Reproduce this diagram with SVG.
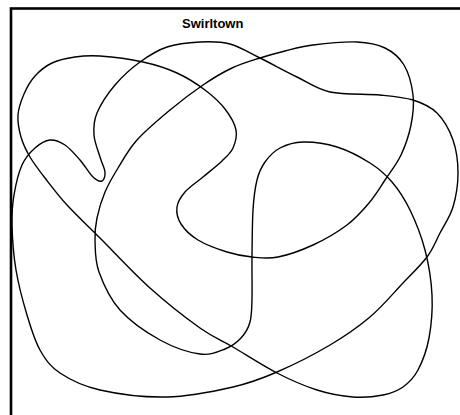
<svg xmlns="http://www.w3.org/2000/svg" width="460" height="415" viewBox="0 0 460 415">
<style>
.frame{fill:none;stroke:#000;stroke-width:2.6}
.curve{fill:none;stroke:#000;stroke-width:1.4;stroke-linejoin:round}
.title{font-family:"Liberation Sans",Arial,sans-serif;font-size:13px;font-weight:bold;fill:#000}
</style>
<rect width="460" height="415" fill="#fff"/>
<rect class="frame" x="11" y="8.5" width="470" height="430"/>
<text class="title" x="182" y="28">Swirltown</text>
<g id="connectors">
<path id="curveA" class="curve" d="M102,181 C104,180.2 105.3,176 105,172 S101.8,163.2 100,157 S94.5,142.3 94,135 S93.5,121.3 97,113 S107.8,93.5 115,85 S131.3,68.3 140,62 S157,50.3 167,47 S189.5,42.5 200,42 S220,41.3 230,44 S248.8,52.5 260,58 S285.3,71.3 297,77 S316.2,89 330,92 S366.2,93.7 380,95 S403.5,97 413,100 S430.3,106.3 437,113 S449.5,130 453,140 S458,161.8 458,173 S456,197 453,207 S444.3,224.7 440,233 S433.2,248.7 427,257 S412.5,273 403,283 S382.2,306.7 370,317 S345.5,335.8 330,345 S293.2,365 277,372 S251.3,382.8 233,387 S189.2,396.5 167,397 S117.8,394 100,390 S70,379.7 60,373 S45.5,359.7 40,350 S31,328.3 27,315 S18.5,285 16,270 S12.3,237.5 12,225 S12.3,205 14,195 S18.5,172.8 22,165 S30.3,152.2 35,148 S45,140.5 50,140 S60,141.7 65,145 S75.3,154.7 80,160 S89.3,173.5 93,177 S100,181.8 102,181 Z"/>
<path id="curveB" class="curve" d="M18,115 C18.5,107.8 21.2,100.5 24,94 S30.3,81.2 35,76 S45.3,66.2 52,63 S67,58.2 75,57 S88.7,55.2 100,56 S130.2,59.2 143,62 S166.7,68.3 177,73 S197,84 205,90 S219.8,102.3 225,109 S234.7,123.5 236,130 S235.3,142.8 233,148 S227,156.2 222,161 S209.2,171.8 203,177 S189.3,187 185,192 S177.7,201.7 177,207 S177.5,218.5 181,224 S190.3,235.3 198,240 S218,249.2 227,252 S243.5,256.2 252,257 S267.8,259 278,257 S301.5,250.3 313,245 S337.7,232 347,225 S362.7,210.5 369,203 S379.7,188 385,180 S396.7,164.2 401,155 S409,135 411,125 S414.2,105 413,95 S408.7,72.8 404,65 S392.8,51.8 385,48 S369,42.5 357,42 S325,43.5 313,45 S293.8,48.8 285,51 S268.8,55.2 260,58 S241.5,63.5 232,68 S213.3,78 203,85 S181,100.8 170,110 S145.7,130.3 137,140 S123.3,159.3 118,168 S108.5,183.7 105,192 S98.7,210 97,218 S94.7,231 95,240 S94.8,260.3 99,272 S109.8,298.7 120,310 S146.7,332.7 160,340 S189.2,352.5 200,354 S218.2,351.7 225,349 S236.8,342.5 241,338 S248.2,328.7 250,322 S251.7,308.8 252,298 S251.8,271.7 252,257 S252.2,222.8 253,210 S255,188 257,180 S261.2,167.3 265,162 S273.7,151.3 280,148 S293.5,142.2 303,142 S325.8,143.5 337,147 S360.8,157.2 370,163 S385.3,174.2 392,182 S404.5,198.7 410,210 S421.3,235.8 425,250 S431.3,280.3 432,295 S431.3,325.5 429,338 S422.3,361.8 418,370 S408.8,382.8 403,387 S391.3,393.3 383,395 S364,397.8 353,397 S329.7,394 317,390 S291,380.2 277,373 S245.8,354.5 233,347 S213.8,337.8 200,328 S166.7,303 150,288 S113.8,251.8 100,238 S76.2,215 67,205 S51.2,186 45,178 S34,163.8 30,157 S23,144 21,137 S17.5,122.2 18,115 Z"/>
</g>
</svg>
